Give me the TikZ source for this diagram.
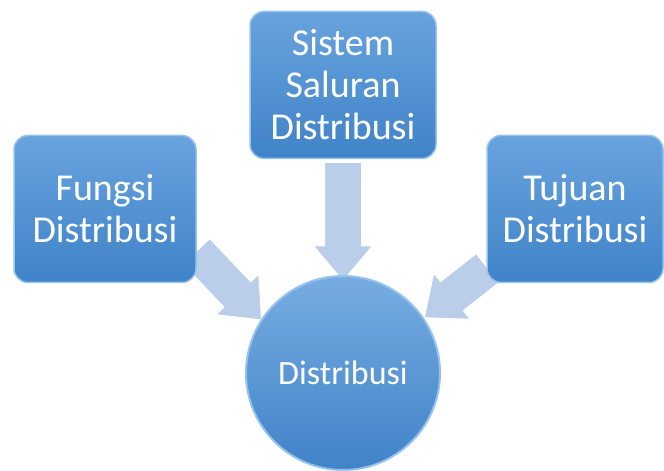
\documentclass[tikz,border=0pt]{standalone}
\usepackage{fontspec}
\setmainfont{Carlito}
\usetikzlibrary{shapes.arrows, positioning, calc, backgrounds}

\definecolor{boxtop}{RGB}{104,163,222}
\definecolor{boxbot}{RGB}{64,131,200}
\definecolor{boxrim}{RGB}{150,195,238}
\definecolor{arrowfill}{RGB}{186,206,234}

\begin{document}
\begin{tikzpicture}[
        x=1pt, y=1pt,
        node distance=288pt,
        box/.style={rectangle, rounded corners=14pt, draw=boxrim, line width=1.5pt,
            top color=boxtop, bottom color=boxbot, text=white, align=center,
            font=\fontsize{38}{42}\selectfont, minimum width=182pt, minimum height=147pt},
        hub/.style={circle, draw=boxrim, line width=2pt, top color=boxtop!90!white,
            bottom color=boxbot, text=white, font=\fontsize{34}{40}\selectfont,
            minimum size=194pt, inner sep=0pt},
        flow/.style={single arrow, draw=white, line width=1pt, fill=arrowfill,
            text width=0pt, text height=0pt, text depth=0pt, inner xsep=0pt, inner ysep=18pt,
            single arrow head extend=11pt, single arrow tip angle=80},
    ]
    \useasboundingbox (0,0) rectangle (664,471);

    % Nodes
    \node [box, minimum width=186pt] (saluran) at (343,386) {Sistem\\ Saluran\\ Distribusi};
    \node [hub, below of=saluran] (distribusi) {Distribusi};
    \node [box] (fungsi) at (105,262) {Fungsi\\ Distribusi};
    \node [box, minimum width=176pt] (tujuan) at (575,262) {Tujuan\\ Distribusi};

    % Arrow ends
    \coordinate (saluran tail) at ($(saluran.south)+(0,8)$);
    \coordinate (saluran tip) at ($(distribusi.north)+(0,5)$);
    \coordinate (fungsi tail) at ($(fungsi.south east)+(-8,40)$);
    \coordinate (fungsi tip) at ($(distribusi.center)+(-89,61)$);
    \coordinate (tujuan tail) at ($(tujuan.south west)+(10,22)$);
    \coordinate (tujuan tip) at ($(distribusi.center)+(90,62)$);

    % Arrows
    \begin{pgfonlayer}{background}
    \foreach \src in {saluran, fungsi, tujuan} {
        \path let \p1=(\src\space tail), \p2=(\src\space tip),
            \n1={atan2(\y2-\y1,\x2-\x1)}, \n2={veclen(\x2-\x1,\y2-\y1)} in
            node [flow, rotate=\n1, minimum height=\n2] at ($(\p1)!0.5!(\p2)$) {};
    }
    \end{pgfonlayer}
\end{tikzpicture}
\end{document}
